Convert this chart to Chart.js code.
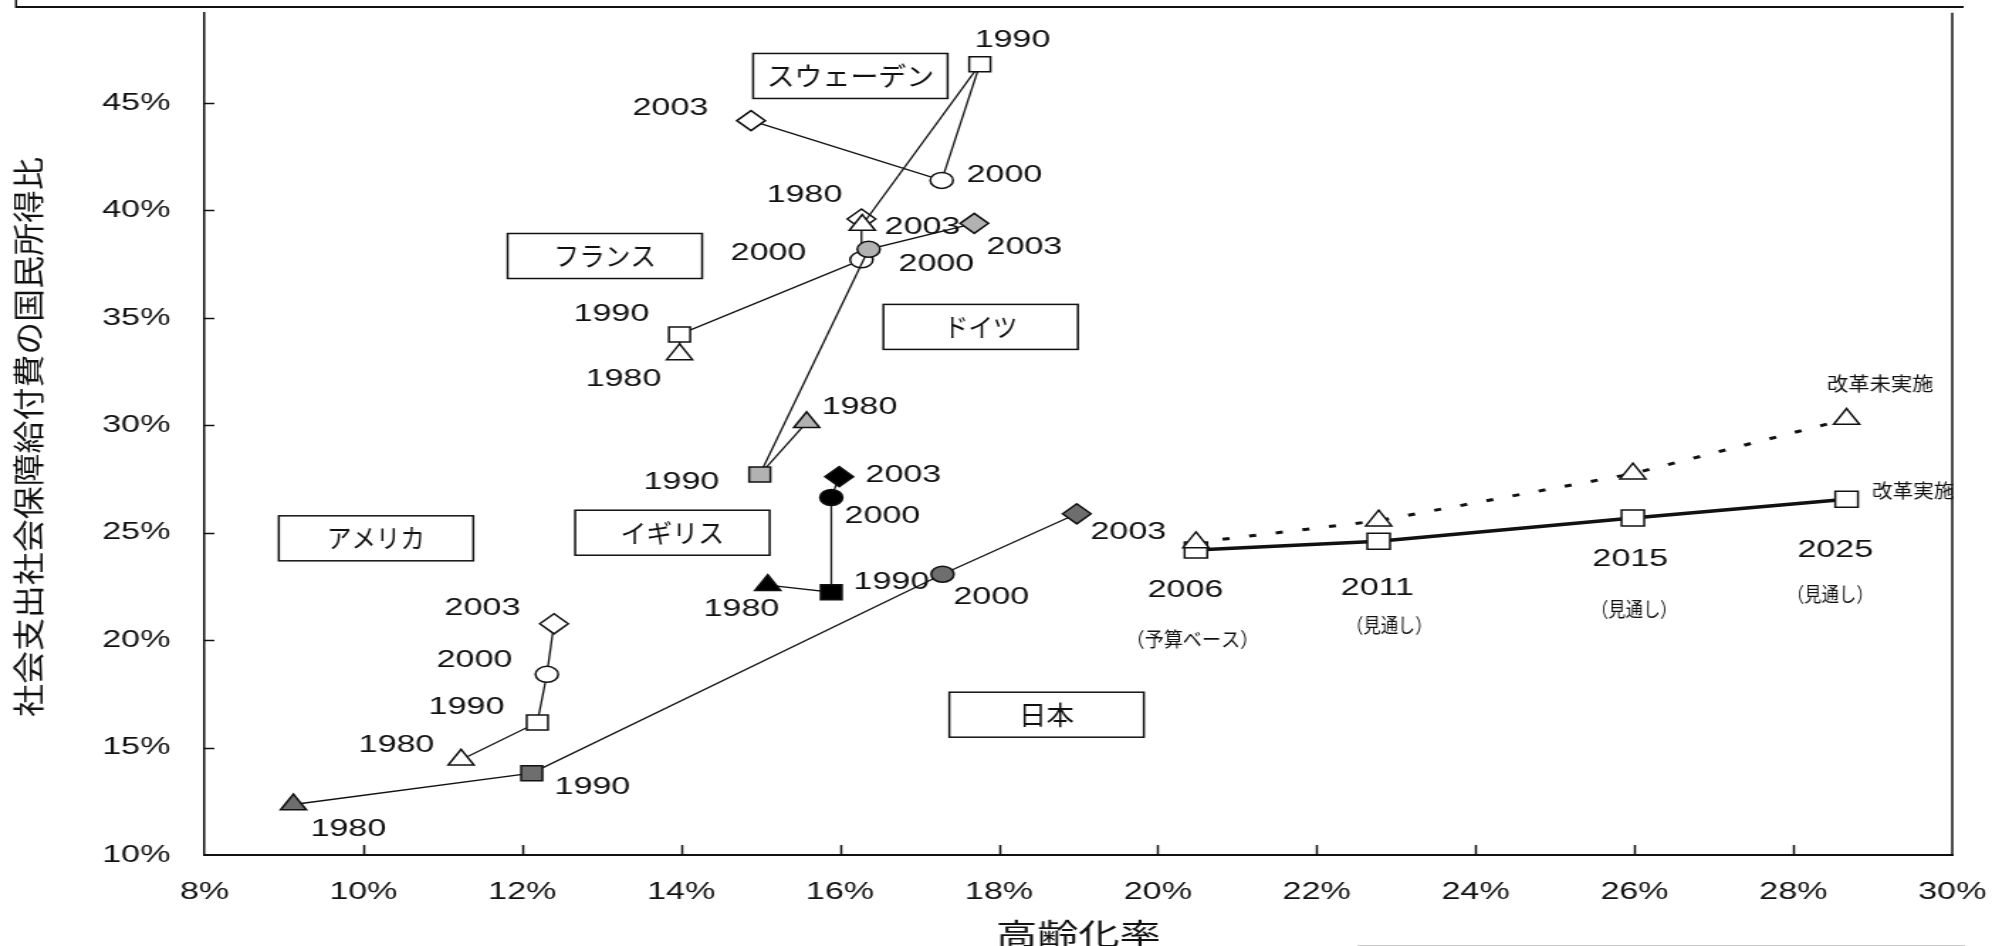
<!DOCTYPE html>
<html lang="ja">
<head>
<meta charset="utf-8">
<title>高齢化率と社会支出の国民所得比</title>
<script src="https://cdn.jsdelivr.net/npm/chart.js@4.4.1/dist/chart.umd.min.js"></script>
<style>
  html, body { margin: 0; padding: 0; background: #fff; overflow: hidden; }
  /* the chart is laid out on a narrower canvas and widened horizontally */
  #wrap { width: 1403px; height: 946px; transform: scaleX(1.41982); transform-origin: 0 0; }
  canvas { display: block; }
</style>
</head>
<body>
<div id="wrap"><canvas id="c" width="1403" height="946"></canvas></div>
<script>
// ---- data: aging rate (x, %) vs. social spending / national income (y, %) ----
const years = ['1980', '1990', '2000', '2003'];

const japanAging     = [9.12, 12.12, 17.29, 18.98];
const japanSpending  = [12.35, 13.81, 23.07, 25.88];

const usAging        = [11.23, 12.19, 12.31, 12.40];
const usSpending     = [14.43, 16.17, 18.41, 20.76];

const ukAging        = [15.09, 15.89, 15.89, 15.99];
const ukSpending     = [22.56, 22.23, 26.64, 27.61];

const germanyAging   = [15.58, 14.99, 16.36, 17.69];
const germanySpending= [30.14, 27.71, 38.19, 39.40];

const franceAging    = [13.98, 13.98, 16.27, 16.27];
const franceSpending = [33.30, 34.23, 37.70, 39.60];

const swedenAging    = [16.28, 17.76, 17.28, 14.88];
const swedenSpending = [39.32, 46.80, 41.40, 44.18];

// Japan outlook
const outlookYears   = ['2006', '2011', '2015', '2025'];
const outlookNotes   = ['（予算ベース）', '（見通し）', '（見通し）', '（見通し）'];
const outlookAging   = [20.48, 22.78, 25.98, 28.67];
const withReform     = [24.20, 24.60, 25.69, 26.56];
const withoutReform  = [24.55, 25.56, 27.75, 30.29];

const xTickValues = [8, 10, 12, 14, 16, 18, 20, 22, 24, 26, 28, 30];
const yTickValues = [10, 15, 20, 25, 30, 35, 40, 45];

const xTitle = '高齢化率';
const yTitle = '社会支出社会保障給付費の国民所得比';
const reformLabel = '改革実施';
const noReformLabel = '改革未実施';

// ---- presentation ----
const INK = '#111';
const LATIN = "'Liberation Sans', Arial, sans-serif";
const CJK = "'Noto Sans CJK JP', 'Noto Sans CJK SC', sans-serif";
Chart.defaults.font.family = LATIN;
Chart.defaults.color = INK;

const markerStyles = ['triangle', 'rect', 'circle', 'rectRot'];
const markerRadius = { triangle: 10.5, rect: 10.6, circle: 8, rectRot: 10 };

function countrySeries(key, xs, ys, fill) {
  return {
    label: key,
    data: xs.map((v, i) => ({ x: v, y: ys[i] })),
    showLine: true,
    borderColor: INK,
    borderWidth: 1.3,
    pointStyle: markerStyles,
    pointRadius: markerStyles.map(s => markerRadius[s]),
    pointBackgroundColor: fill,
    pointBorderColor: INK,
    pointBorderWidth: 1.5
  };
}

const datasets = [
  countrySeries('japan', japanAging, japanSpending, '#6e6e6e'),
  {
    label: 'noReform',
    data: outlookAging.map((v, i) => ({ x: v, y: withoutReform[i] })),
    showLine: true,
    borderColor: INK,
    borderWidth: 3,
    borderDash: [5, 14],
    pointStyle: 'triangle',
    pointRadius: 10.5,
    pointBackgroundColor: '#fff',
    pointBorderColor: INK,
    pointBorderWidth: 1.5
  },
  {
    label: 'reform',
    data: outlookAging.map((v, i) => ({ x: v, y: withReform[i] })),
    showLine: true,
    borderColor: INK,
    borderWidth: 3.5,
    pointStyle: 'rect',
    pointRadius: 11.3,
    pointBackgroundColor: '#fff',
    pointBorderColor: INK,
    pointBorderWidth: 1.5
  },
  countrySeries('us', usAging, usSpending, '#fff'),
  countrySeries('uk', ukAging, ukSpending, '#000'),
  countrySeries('germany', germanyAging, germanySpending, '#b2b2b2'),
  countrySeries('sweden', swedenAging, swedenSpending, '#fff'),
  countrySeries('france', franceAging, franceSpending, '#fff')
];

// year label placement relative to each marker (canvas px)
const yearLabelOffsets = {
  japan:   [[38.7, 24.8], [42.7, 14.3], [34.4, 23.4], [36.3, 18.1]],
  us:      [[-45.5, -14.3], [-49.9, -14.7], [-51, -14.3], [-50.4, -15.5]],
  uk:      [[-18.5, 24.4], [42.3, -9.8], [36, 18.5], [45.2, -1.5]],
  germany: [[37.2, -14.8], [-55.2, 7.7], [47.7, 15.1], [35.3, 24.2]],
  france:  [[-39.5, 25.4], [-48, -20.5], [-65.5, -6.5], [43, 8.6]],
  sweden:  [[-40.7, -29.5], [23, -24], [44.2, -4.6], [-56.8, -12.5]]
};
const outlookYearOffsets = [[-7.4, 40.8], [-0.9, 47.5], [-1.8, 41], [-8, 50.8]];
const outlookNoteOffsets = [[-2.5, 89.8], [7.5, 84.5], [1, 92], [-11.5, 94.8]];
const outlookNoteWidths  = [94, 61, 61, 61];

// country name boxes, placed in axis units
const countryBoxes = [
  { name: 'スウェーデン', x: 16.13, y: 46.26, tw: 118 },
  { name: 'フランス',     x: 13.04, y: 37.88, tw: 72 },
  { name: 'ドイツ',       x: 17.77, y: 34.58, tw: 52 },
  { name: 'アメリカ',     x: 10.16, y: 24.74, tw: 69 },
  { name: 'イギリス',     x: 13.89, y: 25.00, tw: 73 },
  { name: '日本',         x: 18.60, y: 16.53, tw: 39 }
];

function drawText(ctx, text, cx, cy, font, width) {
  ctx.save();
  ctx.font = font;
  const w = ctx.measureText(text).width;
  ctx.translate(cx, cy);
  if (width) ctx.scale(width / w, 1);
  ctx.textAlign = 'center';
  ctx.textBaseline = 'middle';
  ctx.fillStyle = INK;
  ctx.fillText(text, 0, 0);
  ctx.restore();
}

function line(ctx, x1, y1, x2, y2, w, color) {
  ctx.beginPath();
  ctx.moveTo(x1, y1);
  ctx.lineTo(x2, y2);
  ctx.lineWidth = w;
  ctx.strokeStyle = color || INK;
  ctx.stroke();
}

const decorations = {
  id: 'decorations',
  beforeDatasetsDraw(chart) {
    const { ctx, scales: { x, y } } = chart;
    ctx.save();
    for (const b of countryBoxes) {
      const cx = x.getPixelForValue(b.x);
      const cy = y.getPixelForValue(b.y);
      ctx.fillStyle = '#fff';
      ctx.fillRect(cx - 68.5, cy - 22.5, 137, 45);
      ctx.lineWidth = 1.5;
      ctx.strokeStyle = INK;
      ctx.strokeRect(cx - 68.5, cy - 22.5, 137, 45);
      drawText(ctx, b.name, cx, cy, `26px ${CJK}`, b.tw);
    }
    ctx.restore();
  },
  afterDraw(chart) {
    const { ctx, chartArea: a, scales: { x, y } } = chart;
    ctx.save();

    // inward tick marks
    for (const v of yTickValues) {
      if (v === y.min) continue;
      const py = Math.round(y.getPixelForValue(v)) + 0.5;
      line(ctx, a.left, py, a.left + 7, py, 1.5);
    }
    for (const v of xTickValues) {
      if (v === x.min || v === x.max) continue;
      const px = Math.round(x.getPixelForValue(v)) + 0.5;
      line(ctx, px, a.bottom, px, a.bottom - 10, 1.5);
    }

    // plot frame: right edge and top rule
    line(ctx, a.right, a.top, a.right, a.bottom + 1, 1.5);
    line(ctx, 11.3, 7, 1383, 7, 2);
    line(ctx, 11.3, 0, 11.3, 8, 1.5);
    line(ctx, 956, 945.5, 1384, 945.5, 1, '#c8c8c8');

    // year labels beside each marker
    chart.data.datasets.forEach((ds, i) => {
      const offs = yearLabelOffsets[ds.label];
      if (!offs) return;
      chart.getDatasetMeta(i).data.forEach((pt, j) => {
        drawText(ctx, years[j], pt.x + offs[j][0], pt.y + offs[j][1], `24px ${LATIN}`);
      });
    });

    // outlook labels
    const reformIdx = chart.data.datasets.findIndex(d => d.label === 'reform');
    const noReformIdx = chart.data.datasets.findIndex(d => d.label === 'noReform');
    const reformPts = chart.getDatasetMeta(reformIdx).data;
    const noReformPts = chart.getDatasetMeta(noReformIdx).data;
    reformPts.forEach((pt, j) => {
      drawText(ctx, outlookYears[j], pt.x + outlookYearOffsets[j][0], pt.y + outlookYearOffsets[j][1], `24px ${LATIN}`);
      drawText(ctx, outlookNotes[j], pt.x + outlookNoteOffsets[j][0], pt.y + outlookNoteOffsets[j][1], `20px ${CJK}`, outlookNoteWidths[j]);
    });
    const lastR = reformPts[reformPts.length - 1];
    const lastN = noReformPts[noReformPts.length - 1];
    drawText(ctx, reformLabel, lastR.x + 47, lastR.y - 8.2, `19px ${CJK}`, 58);
    drawText(ctx, noReformLabel, lastN.x + 23.7, lastN.y - 34.8, `19px ${CJK}`, 75);

    // axis titles
    drawText(ctx, xTitle, (a.left + a.right) / 2, 934, `29px ${CJK}`, 116);
    ctx.save();
    ctx.translate(19.7, 437);
    ctx.rotate(-Math.PI / 2);
    ctx.scale(1, 0.72);
    drawText(ctx, yTitle, 0, 0, `30px ${CJK}`, 560);
    ctx.restore();

    ctx.restore();
  }
};

new Chart(document.getElementById('c'), {
  type: 'scatter',
  data: { datasets },
  plugins: [decorations],
  options: {
    responsive: false,
    animation: false,
    devicePixelRatio: 1,
    events: [],
    layout: { padding: { left: 0, right: 28, top: 8, bottom: 0 } },
    plugins: { legend: { display: false }, tooltip: { enabled: false } },
    scales: {
      x: {
        type: 'linear',
        min: 8,
        max: 30,
        afterBuildTicks: s => { s.ticks = xTickValues.map(v => ({ value: v })); },
        afterFit: s => { s.height = 91; s.paddingLeft = 0; s.paddingRight = 0; s.paddingTop = 0; s.paddingBottom = 0; },
        ticks: { callback: v => v + '%', font: { size: 24 }, color: INK, padding: 23, maxRotation: 0, autoSkip: false },
        grid: { display: false, drawTicks: false },
        border: { display: true, color: INK, width: 2 }
      },
      y: {
        type: 'linear',
        min: 10,
        max: 49.2,
        afterBuildTicks: s => { s.ticks = yTickValues.map(v => ({ value: v })); },
        afterFit: s => { s.width = 144; s.paddingLeft = 0; s.paddingRight = 0; s.paddingTop = 0; s.paddingBottom = 0; },
        ticks: { callback: v => v + '%', font: { size: 24 }, color: INK, padding: 24, autoSkip: false },
        grid: { display: false, drawTicks: false },
        border: { display: true, color: INK, width: 1.5 }
      }
    }
  }
});
</script>
</body>
</html>
